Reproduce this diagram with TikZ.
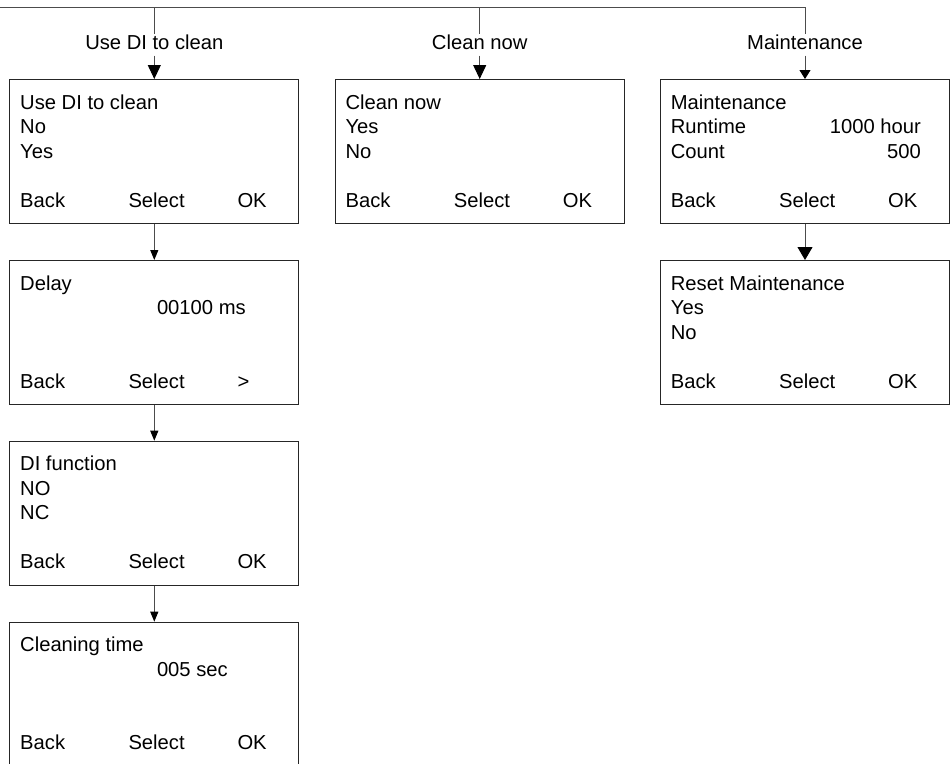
\documentclass[tikz,border=0pt]{standalone}
\usepackage{fontspec}
\setmainfont{Liberation Sans}
\usetikzlibrary{arrows.meta,calc}
\newcommand\footrow[2]{%
  \node[txt] (#1-back) at ($(#1.north west)+(10.7,128)$) {Back};
  \node[txt] (#1-sel)  at ($(#1.north west)+(119,128)$) {Select};
  \node[txt] (#1-ok)   at ($(#1.north west)+(228,128)$) {#2};
}
\begin{document}
\begin{tikzpicture}[x=1pt,y=-1pt,
  ln/.style={draw=black!70,line width=1pt},
  scr/.style={draw=black!85,line width=1pt,rectangle,minimum width=289pt,minimum height=144pt,inner sep=0pt,anchor=north west},
  txt/.style={anchor=base west,inner sep=0pt,font=\fontsize{20.2}{24}\selectfont},
  rtxt/.style={txt,anchor=base east},
  lab/.style={anchor=base,fill=white,inner xsep=3pt,inner ysep=0pt,text height=15pt,text depth=6pt,font=\fontsize{20.2}{24}\selectfont},
  bigtip/.style={ln,-{Triangle[length=14pt,width=13pt,color=black]}},
  smalltip/.style={ln,-{Triangle[length=10pt,width=8pt,color=black]}},
  flattip/.style={ln,-{Triangle[length=9pt,width=11pt,color=black]}},
  widetip/.style={ln,-{Triangle[length=13pt,width=15pt,color=black]}}
]
\clip (0,0) rectangle (952,763);

% screens
\node[scr] (use)   at (9.3,79) {};
\node[scr] (delay) at (9.3,260) {};
\node[scr] (difn)  at (9.3,440.7) {};
\node[scr] (ctime) at (9.3,621.7) {};
\node[scr] (cnow)  at (334.7,79) {};
\node[scr] (mnt)   at (660,79) {};
\node[scr] (rmnt)  at (660,260) {};

% Use DI to clean
\node[txt] (use-1) at ($(use.north west)+(10.7,30)$) {Use DI to clean};
\node[txt] (use-2) at ($(use.north west)+(10.7,54.5)$) {No};
\node[txt] (use-3) at ($(use.north west)+(10.7,79)$) {Yes};
\footrow{use}{OK}

% Delay
\node[txt] (delay-1) at ($(delay.north west)+(10.7,30)$) {Delay};
\node[txt] (delay-2) at ($(delay.north west)+(147.5,54.5)$) {00100 ms};
\footrow{delay}{>}

% DI function
\node[txt] (difn-1) at ($(difn.north west)+(10.7,30)$) {DI function};
\node[txt] (difn-2) at ($(difn.north west)+(10.7,54.5)$) {NO};
\node[txt] (difn-3) at ($(difn.north west)+(10.7,79)$) {NC};
\footrow{difn}{OK}

% Cleaning time
\node[txt] (ctime-1) at ($(ctime.north west)+(10.7,30)$) {Cleaning time};
\node[txt] (ctime-2) at ($(ctime.north west)+(147.5,54.5)$) {005 sec};
\footrow{ctime}{OK}

% Clean now
\node[txt] (cnow-1) at ($(cnow.north west)+(10.7,30)$) {Clean now};
\node[txt] (cnow-2) at ($(cnow.north west)+(10.7,54.5)$) {Yes};
\node[txt] (cnow-3) at ($(cnow.north west)+(10.7,79)$) {No};
\footrow{cnow}{OK}

% Maintenance
\node[txt] (mnt-1) at ($(mnt.north west)+(10.7,30)$) {Maintenance};
\node[txt] (mnt-2) at ($(mnt.north west)+(10.7,54.5)$) {Runtime};
\node[rtxt] (mnt-2v) at ($(mnt.north west)+(261,54.5)$) {1000 hour};
\node[txt] (mnt-3) at ($(mnt.north west)+(10.7,79)$) {Count};
\node[rtxt] (mnt-3v) at ($(mnt.north west)+(261,79)$) {500};
\footrow{mnt}{OK}

% Reset Maintenance
\node[txt] (rmnt-1) at ($(rmnt.north west)+(10.7,30)$) {Reset Maintenance};
\node[txt] (rmnt-2) at ($(rmnt.north west)+(10.7,54.5)$) {Yes};
\node[txt] (rmnt-3) at ($(rmnt.north west)+(10.7,79)$) {No};
\footrow{rmnt}{OK}

% top bus
\coordinate (tl) at (0,7);
\coordinate (j1) at (use.north |- tl);
\coordinate (j2) at (cnow.north |- tl);
\coordinate (j3) at (mnt.north |- tl);
\node[lab] (l1) at ($(use.north |- tl)+(0,42.3)$) {Use DI to clean};
\node[lab] (l2) at ($(cnow.north |- tl)+(0,42.3)$) {Clean now};
\node[lab] (l3) at ($(mnt.north |- tl)+(0,42.3)$) {Maintenance};

\draw[ln] (tl) -- (j3) -- (l3.north);
\draw[ln] (j1) -- (l1.north);
\draw[ln] (j2) -- (l2.north);
\draw[bigtip] (l1.south) -- (use.north);
\draw[bigtip] (l2.south) -- (cnow.north);
\draw[flattip] (l3.south) -- (mnt.north);

% chains
\draw[smalltip] (use.south) -- (delay.north);
\draw[smalltip] (delay.south) -- (difn.north);
\draw[smalltip] (difn.south) -- (ctime.north);
\draw[widetip] (mnt.south) -- (rmnt.north);
\end{tikzpicture}
\end{document}
